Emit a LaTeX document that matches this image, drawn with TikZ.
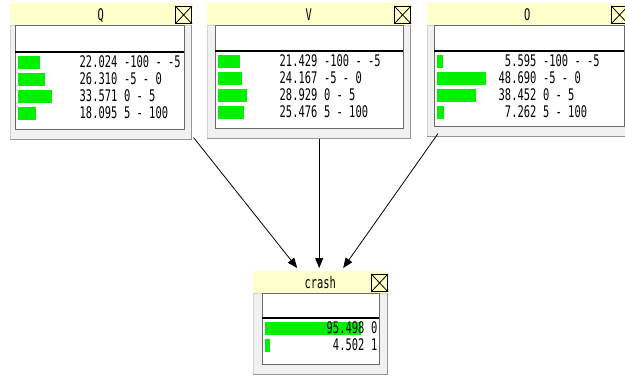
\documentclass[tikz,border=0pt]{standalone}
\usepackage{fontspec}
\newfontfamily\gf[FakeStretch=0.65]{DejaVu Sans Mono}
\usetikzlibrary{arrows.meta,calc}
\definecolor{ttl}{RGB}{255,255,204}
\definecolor{barg}{RGB}{0,240,0}
\definecolor{pnl}{RGB}{241,241,241}
\definecolor{pnledge}{RGB}{150,150,150}
\definecolor{boxedge}{RGB}{105,105,105}
\tikzset{
  panelbox/.style={anchor=north west, fill=pnl, draw=gray!35, line width=0.6pt, inner sep=0pt},
  paneledge/.style={draw=pnledge, line width=1.6pt},
  titlebar/.style={anchor=north west, fill=ttl, draw=none, inner sep=0pt, minimum height=22pt},
  titletext/.style={font=\gf\fontsize{16}{16}\selectfont, inner sep=0pt, text height=11.7pt, text depth=0pt},
  whitebox/.style={anchor=north west, fill=white, draw=boxedge, line width=0.8pt, inner sep=0pt},
  sepline/.style={draw=black, line width=1.3pt},
  xbox/.style={anchor=north east, draw=black, line width=0.8pt, fill=ttl, minimum width=16pt, minimum height=17pt, inner sep=0pt},
  bar/.style={anchor=west, fill=barg, draw=none, inner sep=0pt, minimum height=13pt},
  numtext/.style={anchor=east, font=\gf\fontsize{16}{16}\selectfont, inner sep=0pt, text height=11.7pt, text depth=0pt},
  rngtext/.style={anchor=west, font=\gf\fontsize{16}{16}\selectfont, inner sep=0pt, text height=11.7pt, text depth=0pt},
  arr/.style={-{Triangle[length=10pt,width=8pt]}, line width=0.8pt, draw=black}
}
\newcommand\bnwin[9]{%
  \node[panelbox, minimum width={#4-#3}, minimum height={#8+10-#5-22}] (#1) at (#3,{#5+22}) {};
  \draw[paneledge] (#1.north east) -- (#1.south east) -- (#1.south west);
  \node[titlebar, minimum width={#4-#3}] (#1-t) at (#3,#5) {};
  \node[titletext] (#1-n) at (#1-t.center) {#2};
  \node[whitebox, minimum width={#7-#6}, minimum height={#8-#5-22}] (#1-b) at (#6,{#5+22}) {};
  \coordinate (#1-o) at (#6,#9);
  \coordinate (#1-p) at (#7,#9);
  \draw[sepline] (#1-o) -- (#1-p);
  \node[xbox] (#1-x) at ({#4+1},{#5+3}) {};
  \draw[line width=0.8pt] (#1-x.north west) -- (#1-x.south east) (#1-x.north east) -- (#1-x.south west);
}
\newcommand\bnrow[5]{%
  \node[bar, minimum width={#3}] (#1-g#2) at ($(#1-o)+(3,{10+17*(#2-1)})$) {};
  \node[numtext] (#1-v#2) at ($(#1-o)+(102.5,{10+17*(#2-1)})$) {#4};
  \node[rngtext] (#1-r#2) at ($(#1-o)+(109,{10+17*(#2-1)})$) {#5};
}
\begin{document}
\begin{tikzpicture}[x=1pt,y=-1pt]
\useasboundingbox (0,0) rectangle (625,383);
\fill[white] (0,0) rectangle (625,383);

\bnwin{Q}{Q}{10}{191}{3}{15}{184}{129}{52}
\bnrow{Q}{1}{22.024}{22.024}{-100 - -5}
\bnrow{Q}{2}{26.310}{26.310}{-5 - 0}
\bnrow{Q}{3}{33.571}{33.571}{0 - 5}
\bnrow{Q}{4}{18.095}{18.095}{5 - 100}

\bnwin{V}{V}{207}{410}{3}{215}{403}{128}{51}
\bnrow{V}{1}{21.429}{21.429}{-100 - -5}
\bnrow{V}{2}{24.167}{24.167}{-5 - 0}
\bnrow{V}{3}{28.929}{28.929}{0 - 5}
\bnrow{V}{4}{25.476}{25.476}{5 - 100}

\bnwin{O}{O}{427}{627}{3}{434}{624}{126}{51}
\bnrow{O}{1}{5.595}{5.595}{-100 - -5}
\bnrow{O}{2}{48.690}{48.690}{-5 - 0}
\bnrow{O}{3}{38.452}{38.452}{0 - 5}
\bnrow{O}{4}{7.262}{7.262}{5 - 100}

\bnwin{crash}{crash}{253}{387}{271}{262}{379}{364}{318}
\bnrow{crash}{1}{95.498}{95.498}{0}
\bnrow{crash}{2}{4.502}{4.502}{1}

\coordinate (qs) at ($(Q.south east)+(2,-2)$);
\coordinate (ct1) at ($(crash-t.north)+(-23,-3)$);
\coordinate (ct2) at ($(crash-t.north)+(-1,-3)$);
\coordinate (ct3) at ($(crash-t.north)+(23,-3)$);
\coordinate (vs) at (ct2 |- V.south);
\coordinate (os) at ($(O.south west)+(11,-3)$);
\draw[arr] (qs) -- (ct1);
\draw[arr] (vs) -- (ct2);
\draw[arr] (os) -- (ct3);
\end{tikzpicture}
\end{document}
